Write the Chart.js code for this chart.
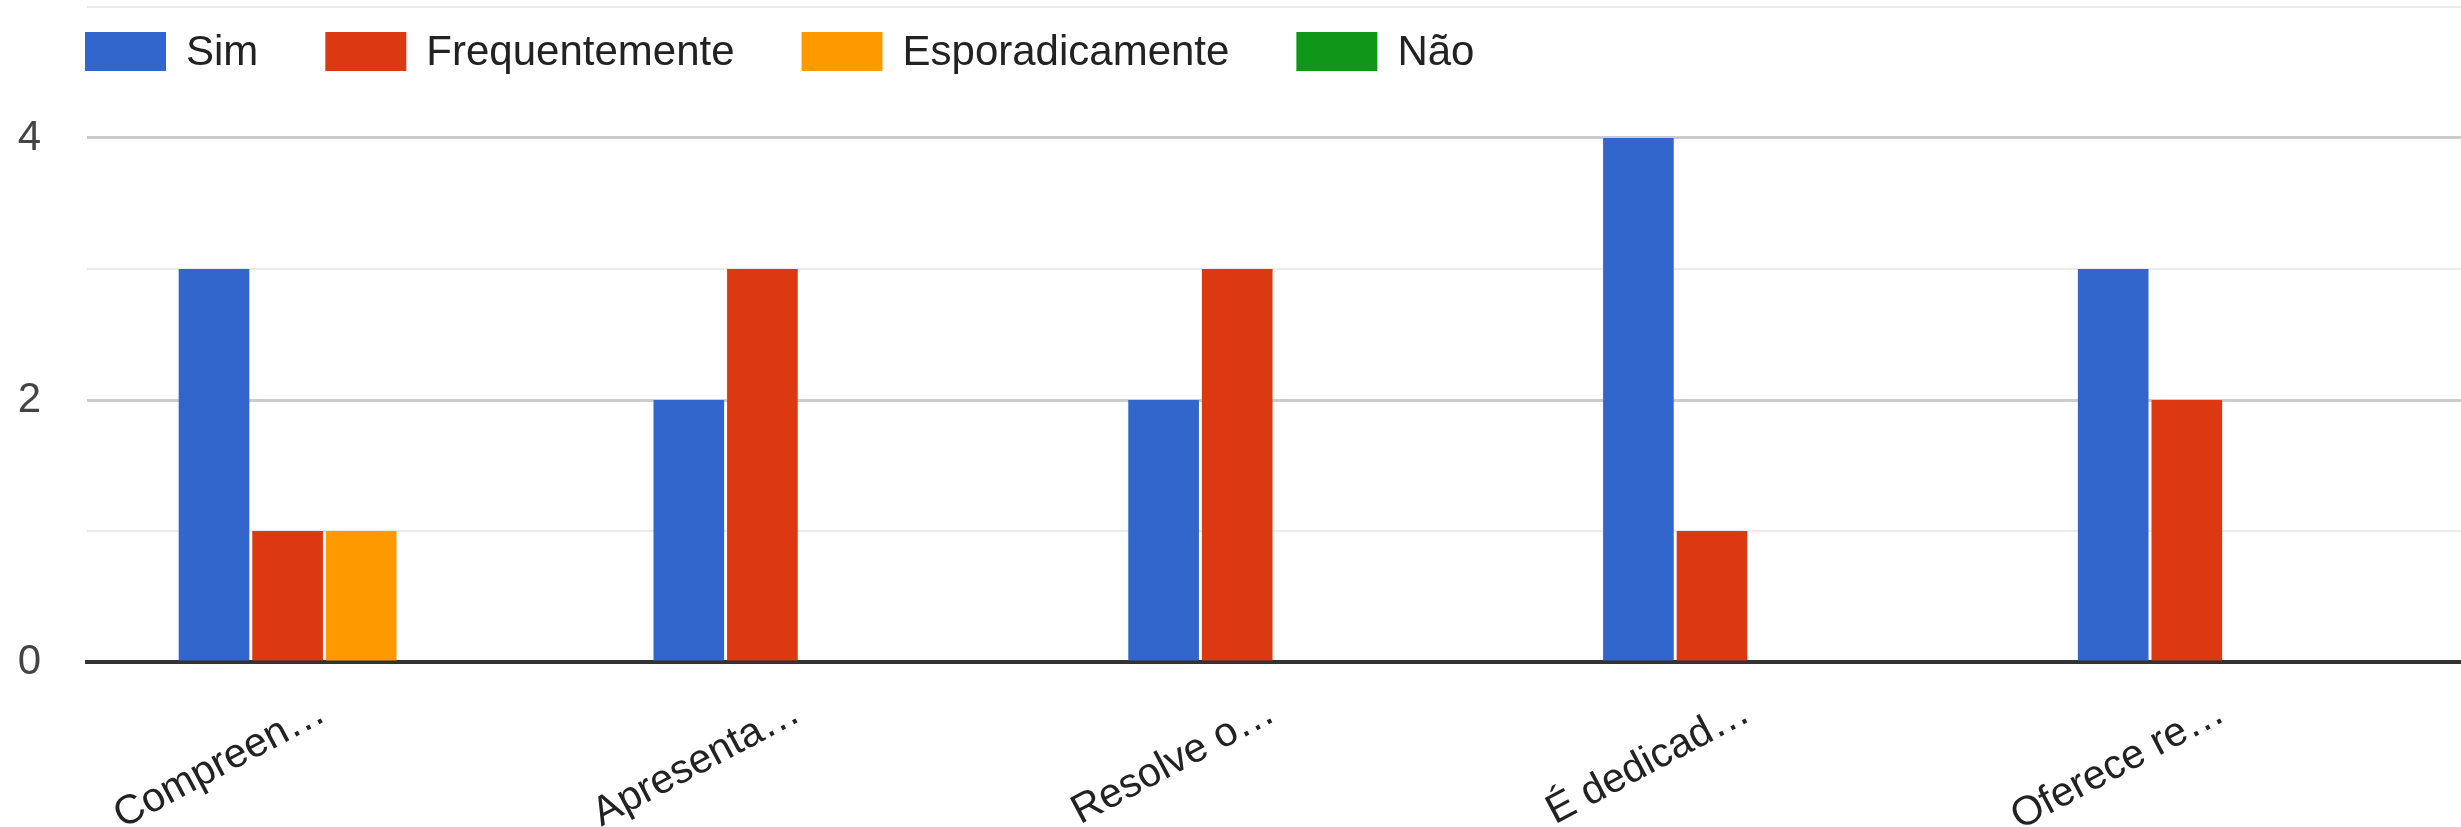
<!DOCTYPE html>
<html>
<head>
<meta charset="utf-8">
<script src="https://cdn.jsdelivr.net/npm/chart.js@4.4.1/dist/chart.umd.min.js"></script>
<style>
  html, body { margin: 0; padding: 0; background: #fff; overflow: hidden; }
  #chart-wrapper { width: 2461px; height: 827px; }
</style>
</head>
<body>
<div id="chart-wrapper"><canvas id="answers-chart" width="2461" height="827"></canvas></div>
<script>
const categories = ["Compreen…", "Apresenta…", "Resolve o…", "É dedicad…", "Oferece re…"];
const seriesNames = ["Sim", "Frequentemente", "Esporadicamente", "Não"];
const simValues = [3, 2, 2, 4, 3];
const frequentValues = [1, 3, 3, 1, 2];
const sporadicValues = [1, 0, 0, 0, 0];
const naoValues = [0, 0, 0, 0, 0];
const seriesColors = ["#3366cc", "#dc3912", "#ff9900", "#109618"];
const yLabelTicks = [0, 2, 4];

const fontFamily = "Arial, 'Liberation Sans', sans-serif";

// legend sits inside the plot area, between the top gridline and the 4 line
const topLegend = {
    id: "topLegend",
    afterDraw(chart) {
        const ctx = chart.ctx;
        let x = 85;
        ctx.save();
        ctx.font = `42px ${fontFamily}`;
        ctx.textBaseline = "middle";
        chart.data.datasets.forEach(ds => {
            ctx.fillStyle = ds.backgroundColor;
            ctx.fillRect(x, 32, 81, 39);
            ctx.fillStyle = "#222";
            ctx.fillText(ds.label, x + 101, 53);
            x += 101 + ctx.measureText(ds.label).width + 67;
        });
        ctx.restore();
    }
};

const allValues = [simValues, frequentValues, sporadicValues, naoValues];

const ctx = document.getElementById("answers-chart").getContext("2d");
const answersChart = new Chart(ctx, {
    type: "bar",
    data: {
        labels: categories,
        datasets: seriesNames.map((name, i) => ({
            label: name,
            data: allValues[i],
            backgroundColor: seriesColors[i],
            borderWidth: 0,
            barPercentage: 0.96,
            categoryPercentage: 0.62
        }))
    },
    options: {
        responsive: false,
        devicePixelRatio: 1,
        animation: false,
        layout: {
            autoPadding: false,
            padding: { top: 7, left: 0, right: -8, bottom: 0 }
        },
        plugins: {
            legend: { display: false },
            tooltip: { enabled: false }
        },
        scales: {
            x: {
                z: 1,
                offset: true,
                grid: { display: false },
                border: { display: true, color: "#333", width: 4 },
                ticks: {
                    autoSkip: false,
                    minRotation: 28,
                    maxRotation: 28,
                    padding: 18,
                    labelOffset: -2,
                    color: "#222",
                    font: { family: fontFamily, size: 41 }
                },
                afterFit: (scale) => {
                    scale.height = 165;
                    scale.paddingLeft = 0;
                    scale.paddingRight = 0;
                }
            },
            y: {
                min: 0,
                max: 5,
                ticks: {
                    stepSize: 1,
                    padding: 46,
                    color: "#444",
                    font: { family: fontFamily, size: 42 },
                    callback: (v) => yLabelTicks.includes(v) ? v : ""
                },
                grid: {
                    drawTicks: false,
                    color: (c) => c.tick.value === 0 ? "rgba(0,0,0,0)" : (c.tick.value % 2 === 0 ? "#cccccc" : "#ebebeb"),
                    lineWidth: (c) => c.tick.value % 2 === 0 ? 3 : 2
                },
                border: { display: false },
                afterFit: (scale) => {
                    scale.width = 87;
                    scale.paddingTop = 0;
                    scale.paddingBottom = 0;
                }
            }
        }
    },
    plugins: [topLegend]
});
</script>
</body>
</html>
